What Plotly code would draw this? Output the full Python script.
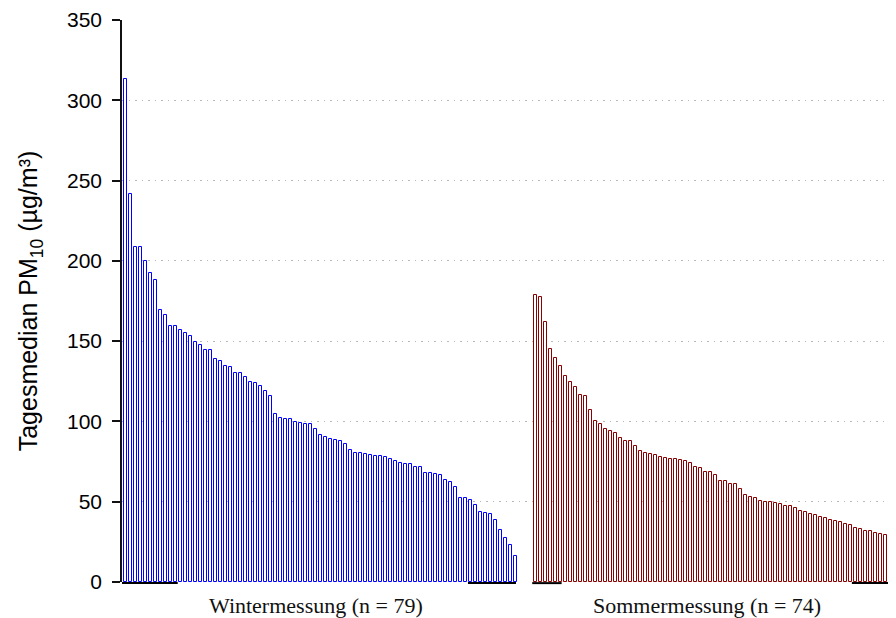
import plotly.graph_objects as go

winter_values = [313, 241.6, 208.8, 208.8, 200, 192.6, 187.9, 169.2, 166, 159.6,
                 159.2, 156.7, 155.3, 153, 149.5, 147.4, 144.5, 144.3, 139.1, 137.4,
                 134.3, 133.7, 130.4, 130.2, 127.5, 124.6, 123.9, 121.9, 118.8, 115.8,
                 104.4, 102.3, 101.5, 101.3, 99.6, 98.8, 98.4, 98.4, 95.1, 91.5,
                 90.3, 88.9, 88.2, 87.6, 86.1, 82, 80.5, 80.5, 79.9, 78.9,
                 78.3, 78.3, 77.6, 76.4, 75.4, 74.3, 73.5, 73.3, 71.6, 71.4,
                 68.1, 68.1, 67.3, 66.4, 63.5, 62.1, 59.2, 52.5, 52.3, 51.3,
                 48.2, 43.4, 43, 42.1, 38.4, 32.4, 27.2, 22.8, 16.2]

summer_values = [178.7, 177.3, 161.7, 145.1, 139.5, 134.7, 128.3, 124.4, 121.6, 116.3,
                 115.8, 107.3, 100.1, 98.2, 95.1, 93.8, 92.6, 89.5, 88, 87.8,
                 84.5, 81.8, 80.1, 79.9, 79.1, 78, 77, 76.8, 76.4, 75.8,
                 75.2, 74.1, 71.8, 71.2, 68.7, 68.5, 66.6, 63.1, 62.9, 60.8,
                 60.8, 57.9, 54.4, 52.9, 52.1, 50.6, 50, 49.8, 49.2, 48.4,
                 47.3, 47.3, 46.3, 44, 43.6, 42.5, 41.9, 40.7, 39.7, 38.6,
                 38.2, 37.2, 35.9, 35.3, 33.8, 32.8, 31.8, 31.6, 30.5, 29.7,
                 29.3, 28.2, 23.7, 22]

winter_label = "Wintermessung (n = 79)"
summer_label = "Sommermessung (n = 74)"
y_ticks = [0, 50, 100, 150, 200, 250, 300, 350]

gap_slots = 3
winter_x = list(range(len(winter_values)))
summer_start = len(winter_values) + gap_slots
summer_x = [summer_start + i for i in range(len(summer_values))]

fig = go.Figure()
fig.add_trace(go.Bar(x=winter_x, y=winter_values, width=0.68,
                     marker=dict(color="white", line=dict(color="#0000FF", width=1)),
                     showlegend=False, name="Winter"))
fig.add_trace(go.Bar(x=summer_x, y=summer_values, width=0.68,
                     marker=dict(color="white", line=dict(color="#8B0000", width=1)),
                     showlegend=False, name="Sommer"))

# black segments along the base line
for a, b in [(0.0, 0.072), (0.447, 0.509), (0.530, 0.568), (0.943, 1.0)]:
    fig.add_shape(type="line", xref="paper", yref="paper", x0=a, x1=b, y0=-0.002, y1=-0.002,
                  line=dict(color="black", width=2), layer="above")

fig.add_annotation(text=winter_label, xref="paper", yref="paper", x=0.25, y=0,
                   yshift=-23, showarrow=False, xanchor="center", yanchor="middle",
                   font=dict(family="Liberation Serif", size=22, color="#111"))
fig.add_annotation(text=summer_label, xref="paper", yref="paper", x=0.756, y=0,
                   yshift=-23, showarrow=False, xanchor="center", yanchor="middle",
                   font=dict(family="Liberation Serif", size=22, color="#111"))

fig.update_layout(
    width=888, height=610,
    margin=dict(l=114, r=0, t=12, b=36),
    paper_bgcolor="white", plot_bgcolor="white",
    bargap=0,
    font=dict(family="Liberation Sans", color="black"),
    xaxis=dict(range=[-0.75, 154.05], showticklabels=False, showgrid=False,
               zeroline=False, showline=False, ticks=""),
    yaxis=dict(range=[0, 350], tickvals=y_ticks, ticks="outside", ticklen=8,
               tickwidth=1.5, tickcolor="#111", showline=True, linecolor="#111",
               linewidth=1.5, zeroline=False, ticklabelstandoff=6,
               showgrid=True, gridcolor="#b8b8b8", griddash="1.5px,5px", gridwidth=1,
               tickfont=dict(size=21, family="Liberation Sans", color="black"),
               title=dict(text="Tagesmedian PM<sub>10</sub> (µg/m³)",
                          font=dict(size=25, family="Liberation Sans", color="black"),
                          standoff=22)),
)

fig.write_html("out.html")
